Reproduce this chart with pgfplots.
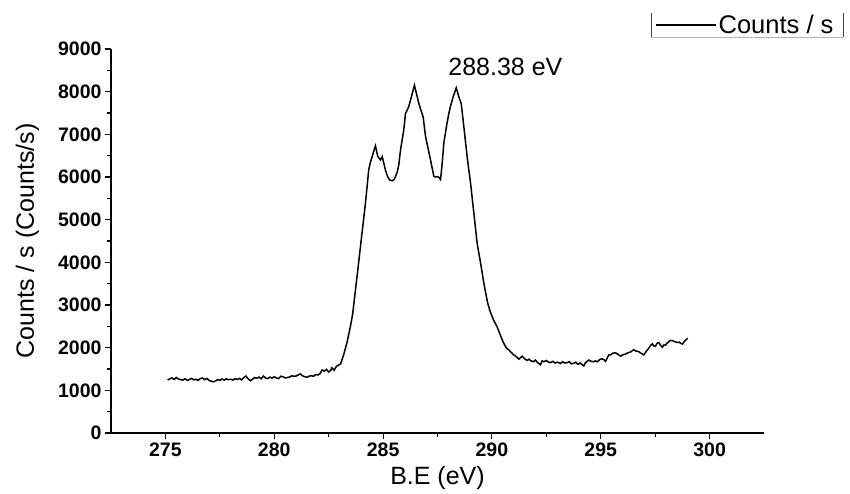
\documentclass[border=0pt]{standalone}
\usepackage{fontspec}
\setmainfont{Liberation Sans}
\usepackage{pgfplots}
\pgfplotsset{compat=1.18}

\begin{document}
\begin{tikzpicture}
\begin{axis}[
  scale only axis,
  width=653pt, height=384pt,
  xmin=272.5, xmax=302.5,
  ymin=0, ymax=9000,
  axis x line=bottom, axis y line=left,
  axis line style={-, line width=1.2pt},
  xtick={275,280,...,300},
  ytick={0,1000,...,9000},
  minor x tick num=1, minor y tick num=1,
  tick align=outside,
  major tick length=6pt, minor tick length=4pt,
  tick style={black, line width=1.1pt},
  scaled y ticks=false,
  /pgf/number format/assume math mode=true,
  /pgf/number format/1000 sep={},
  ticklabel style={font=\fontsize{19.5}{20}\selectfont\bfseries},
  xlabel={B.E (eV)},
  ylabel={Counts / s (Counts/s)},
  every axis x label/.style={at={(axis description cs:0.5,-0.117)}, anchor=center,
    font=\fontsize{25}{26}\selectfont},
  every axis y label/.style={at={(axis description cs:-0.128,0.5)}, anchor=center, rotate=90,
    font=\fontsize{25}{26}\selectfont},
  clip=false,
  legend style={at={(axis description cs:0.833,1.0625)}, anchor=west,
    draw=none, fill=none, inner sep=0pt,
    font=\fontsize{25.5}{26}\selectfont},
  legend image code/.code={\draw[#1] (0pt,0pt) -- (60pt,0pt);},
]
\addplot[black, line width=1.5pt] coordinates {
(275.1,1240) (275.2,1270) (275.3,1290) (275.4,1255) (275.5,1300) (275.6,1265)
(275.7,1250) (275.8,1240) (275.9,1270) (276.0,1235) (276.1,1255) (276.2,1280)
(276.3,1245) (276.4,1260) (276.5,1230) (276.6,1275) (276.7,1290) (276.8,1250)
(276.9,1280) (277.0,1235) (277.1,1215) (277.2,1200) (277.3,1220) (277.4,1250)
(277.5,1235) (277.6,1265) (277.7,1240) (277.8,1270) (277.9,1250) (278.0,1260)
(278.1,1240) (278.2,1275) (278.3,1255) (278.4,1280) (278.5,1245) (278.6,1300)
(278.7,1335) (278.8,1270) (278.9,1225) (279.0,1260) (279.1,1300) (279.2,1280)
(279.3,1310) (279.4,1270) (279.5,1335) (279.6,1290) (279.7,1275) (279.8,1310)
(279.9,1285) (280.0,1320) (280.1,1290) (280.2,1275) (280.3,1330) (280.4,1320)
(280.5,1290) (280.6,1300) (280.7,1310) (280.8,1340) (280.9,1330) (281.0,1335)
(281.1,1360) (281.2,1385) (281.3,1340) (281.4,1320) (281.5,1305) (281.6,1330)
(281.7,1345) (281.8,1330) (281.9,1370) (282.0,1360) (282.1,1390) (282.2,1480)
(282.3,1450) (282.4,1490) (282.5,1430) (282.6,1470) (282.65,1530) (282.75,1470)
(282.85,1560) (282.95,1590) (283.05,1620) (283.2,1850) (283.35,2140) (283.5,2500)
(283.6,2780) (283.73,3350) (283.85,3870) (283.96,4370) (284.08,4900) (284.19,5390)
(284.27,5800) (284.34,6170) (284.42,6350) (284.5,6480) (284.58,6620) (284.65,6730)
(284.72,6560) (284.76,6480) (284.82,6440) (284.88,6400) (284.96,6480) (285.03,6330)
(285.11,6160) (285.2,6020) (285.3,5930) (285.42,5910) (285.5,5940) (285.57,6010)
(285.65,6120) (285.72,6280) (285.8,6630) (285.88,6880) (285.95,7100) (286.03,7490)
(286.1,7560) (286.18,7650) (286.3,7880) (286.44,8150) (286.54,7940) (286.64,7730)
(286.74,7560) (286.84,7410) (286.95,6950) (287.05,6710) (287.18,6400) (287.33,6020)
(287.41,6000) (287.49,6010) (287.57,5990) (287.64,5940) (287.72,6350) (287.79,6790)
(287.9,7150) (288.02,7490) (288.12,7700) (288.22,7880) (288.36,8090) (288.48,7880)
(288.59,7720) (288.71,7180) (288.86,6480) (289.02,5850) (289.17,5150) (289.32,4450)
(289.48,3980) (289.63,3510) (289.72,3260) (289.81,3040) (289.9,2880) (290.01,2730)
(290.1,2620) (290.24,2490) (290.32,2380) (290.4,2280) (290.5,2150) (290.55,2100)
(290.63,2020) (290.7,1980) (290.78,1945) (290.9,1880) (291.0,1830) (291.1,1800)
(291.24,1730) (291.3,1760) (291.39,1800) (291.5,1740) (291.62,1700) (291.7,1730)
(291.8,1690) (291.9,1670) (292.0,1710) (292.1,1650) (292.23,1600) (292.3,1690)
(292.39,1670) (292.5,1700) (292.6,1660) (292.69,1650) (292.8,1680) (292.9,1640)
(293.0,1660) (293.15,1630) (293.25,1670) (293.35,1640) (293.46,1650) (293.55,1670)
(293.65,1620) (293.76,1635) (293.85,1660) (293.95,1610) (294.05,1640) (294.15,1600)
(294.22,1575) (294.3,1650) (294.45,1710) (294.55,1680) (294.65,1670) (294.75,1690)
(294.84,1670) (294.95,1720) (295.05,1740) (295.14,1720) (295.22,1680) (295.3,1760)
(295.37,1830) (295.45,1830) (295.55,1870) (295.68,1880) (295.8,1840) (295.91,1800)
(296.0,1830) (296.14,1850) (296.25,1880) (296.37,1900) (296.45,1930) (296.52,1950)
(296.62,1920) (296.75,1905) (296.85,1870) (296.98,1830) (297.1,1920) (297.21,1990)
(297.3,2060) (297.37,2090) (297.45,2030) (297.52,2040) (297.6,2110) (297.67,2120)
(297.75,2050) (297.83,2010) (297.9,2070) (297.98,2060) (298.05,2110) (298.13,2140)
(298.2,2170) (298.29,2165) (298.4,2140) (298.52,2120) (298.6,2130) (298.68,2100)
(298.75,2085) (298.85,2150) (298.94,2200) (299.0,2220)
};
\addlegendentry{Counts / s}
\node[font=\fontsize{25}{26}\selectfont] at (axis cs:290.62,8580) {288.38 eV};
% legend frame: left, bottom and right sides only
\draw[black!70, line width=1pt] (axis description cs:0.827,1.094) -- (axis description cs:0.827,1.031);
\draw[gray!60, line width=1pt] (axis description cs:0.827,1.031) -- (axis description cs:1.121,1.031);
\draw[black!70, line width=1pt] (axis description cs:1.121,1.094) -- (axis description cs:1.121,1.031);
\end{axis}
\pgfresetboundingbox
\path (current axis.south west) ++(-111pt,-60pt) rectangle ++(850pt,493pt);
\end{tikzpicture}
\end{document}
